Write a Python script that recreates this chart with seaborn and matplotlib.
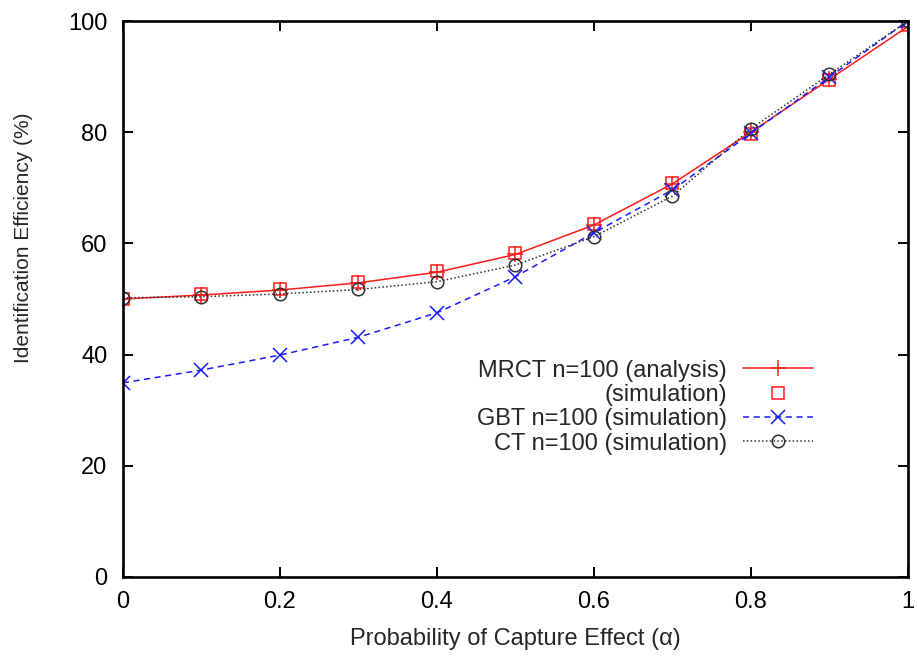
import numpy as np
import pandas as pd
import matplotlib
matplotlib.use('Agg')
import matplotlib.pyplot as plt
import seaborn as sns

alpha = [0.0, 0.1, 0.2, 0.3, 0.4, 0.5, 0.6, 0.7, 0.8, 0.9, 1.0]
mrct_analysis = [50.0, 50.7, 51.6, 52.9, 54.8, 58.0, 63.3, 70.7, 80.0, 89.5, 99.0]
mrct_sim = [49.9, 50.8, 51.7, 53.1, 55.0, 58.3, 63.5, 70.9, 79.6, 89.3, 99.3]
gbt_sim = [34.9, 37.2, 39.9, 43.1, 47.5, 54.0, 61.9, 69.6, 79.8, 89.9, 100.0]
ct_sim = [50.2, 50.4, 50.9, 51.7, 53.1, 56.1, 61.2, 68.5, 80.6, 90.4, 100.0]

xticks = [0, 0.2, 0.4, 0.6, 0.8, 1.0]
xticklabels = ['0', '0.2', '0.4', '0.6', '0.8', '1']
yticks = [0, 20, 40, 60, 80, 100]

df = pd.DataFrame({'alpha': alpha, 'analysis': mrct_analysis, 'mrct': mrct_sim,
                   'gbt': gbt_sim, 'ct': ct_sim})

sns.set_style('ticks')
plt.rcParams['font.family'] = ['Liberation Sans', 'DejaVu Sans']
plt.rcParams['font.size'] = 16

red = '#ff1a1a'
blue = '#1a1aff'
dark = '#303030'

fig = plt.figure(figsize=(9.17, 6.57), dpi=100)
ax = fig.add_axes([0.134, 0.122, 0.856, 0.846])

sns.lineplot(data=df, x='alpha', y='analysis', ax=ax, color=red, lw=1.1,
             marker='+', markersize=11, mew=1.1, mec=red, label='MRCT n=100 (analysis)')
sns.lineplot(data=df, x='alpha', y='mrct', ax=ax, color=red, ls='',
             marker='s', markersize=9, mfc='none', mew=1.1, mec=red, label='(simulation)')
sns.lineplot(data=df, x='alpha', y='gbt', ax=ax, color=blue, lw=1.1, ls=(0, (4, 3)),
             marker='x', markersize=10, mew=1.1, mec=blue, label='GBT n=100 (simulation)')
sns.lineplot(data=df, x='alpha', y='ct', ax=ax, color=dark, lw=1.1, ls=(0, (1, 1.5)),
             marker='o', markersize=9, mfc='none', mew=1.1, mec=dark, label='CT n=100 (simulation)')

ax.set_xlim(0, 1)
ax.set_ylim(0, 100)
ax.set_xticks(xticks)
ax.set_xticklabels(xticklabels)
ax.set_yticks(yticks)
ax.tick_params(direction='in', length=7, width=1.4, top=True, right=True,
               labelsize=17, colors='black')
ax.tick_params(axis='x', pad=10)
ax.tick_params(axis='y', pad=11)
for s in ax.spines.values():
    s.set_linewidth(1.9)
    s.set_color('black')
ax.set_xlabel('Probability of Capture Effect (α)', fontsize=17, labelpad=11)
ax.set_ylabel('Identification Efficiency (%)', fontsize=15)
ax.yaxis.set_label_coords(-0.115, 0.61)

leg = ax.legend(loc='upper right', bbox_to_anchor=(0.879, 0.391), bbox_transform=ax.transAxes,
                frameon=False, markerfirst=False, handlelength=2.97, numpoints=1,
                labelspacing=0.1, handletextpad=0.68, borderpad=0, borderaxespad=0,
                fontsize=17)

fig.savefig('out.png', dpi=100)
